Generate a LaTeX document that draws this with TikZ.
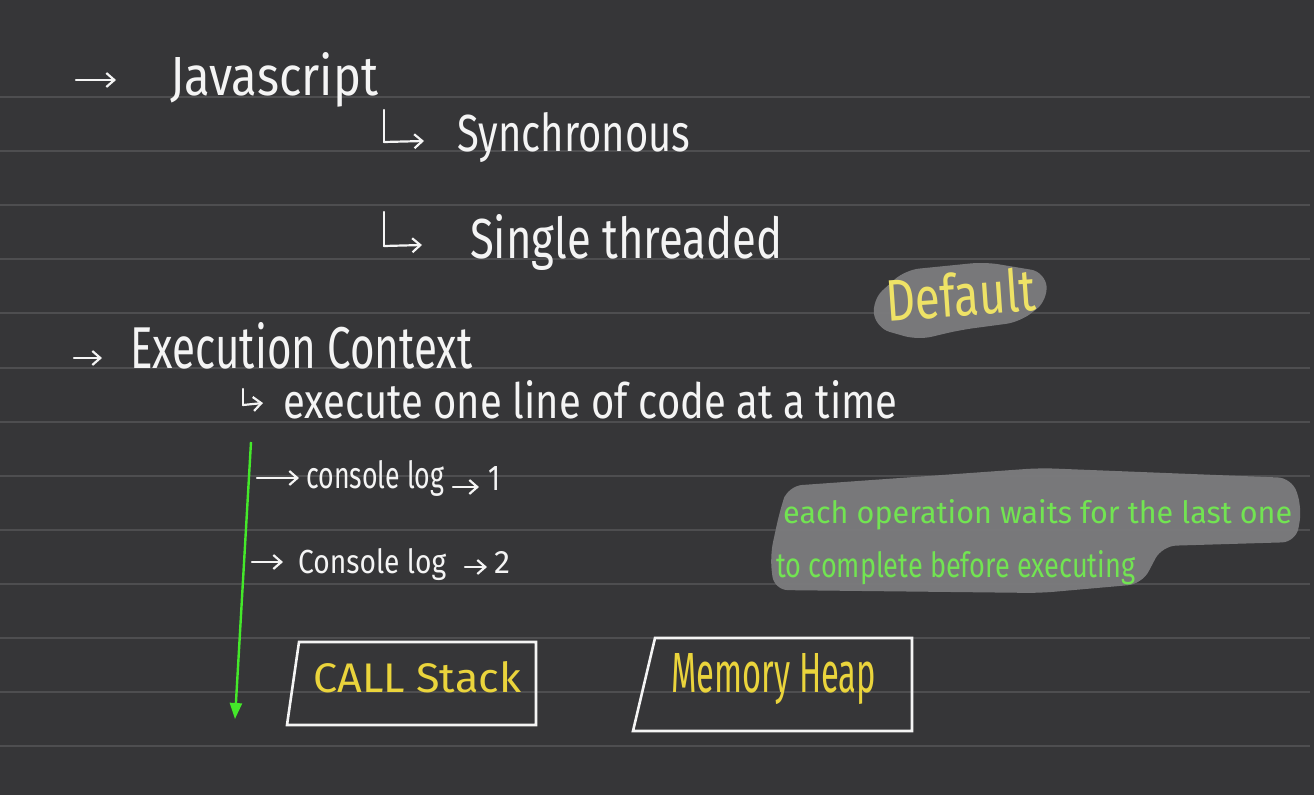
\documentclass[tikz,border=0pt]{standalone}
\usepackage{fontspec}
\usepackage{graphicx}
\usetikzlibrary{arrows.meta}
\newfontfamily\hand{Fira Sans}[FakeStretch=0.8]
\definecolor{bgc}{HTML}{363638}
\definecolor{rulec}{HTML}{4E4E50}
\definecolor{inkw}{HTML}{F4F4F4}
\definecolor{inky}{HTML}{EAD43C}
\definecolor{inky2}{HTML}{EEE266}
\definecolor{inkg}{HTML}{72E452}
\definecolor{arrg}{HTML}{44E82A}
\definecolor{blob}{HTML}{7C7C7E}
\newcommand\hw[3]{\resizebox{#1pt}{#2pt}{\hand #3}}
\tikzset{
  txt/.style={anchor=base west, inner sep=0pt, text=inkw},
  ytxt/.style={txt, text=inky},
  gtxt/.style={txt, text=inkg},
  warr/.style={draw=inkw, line width=2.2pt, line cap=round, -{Straight Barb[length=8pt,width=14pt,line width=2.2pt]}},
  rule/.style={draw=rulec, line width=2pt},
  boxl/.style={draw=inkw, line width=2.6pt, line join=miter},
  blobf/.style={fill=blob, fill opacity=0.95, rounded corners=14pt}
}
\begin{document}
\begin{tikzpicture}[x=1pt,y=-1pt]
\fill[bgc] (0,0) rectangle (1314,795);
\useasboundingbox (0,0) rectangle (1314,795);
% ruled lines
\foreach \k in {0,...,12}{
  \draw[rule] (0,{97+54.1*\k}) -- (1310,{97+54.1*\k});
}
% highlight blobs
\fill[blobf] (872,300) -- (905,270) -- (985,262) -- (1045,272) -- (1048,300)
   -- (1020,322) -- (960,330) -- (918,340) -- (876,328) -- cycle;
\fill[blobf] (788,486) -- (1040,468) -- (1292,478) -- (1302,508) -- (1296,542)
   -- (1162,546) -- (1142,584) -- (1040,593) -- (774,590) -- (770,556) -- (780,510) -- cycle;

% arrows (white)
\draw[warr] (76,80) -- (116,80);
\draw[warr, -] (384,110) -- (384,142);
\draw[warr] (384,142) -- (424,141);
\draw[warr, -] (384,212) -- (384,246);
\draw[warr] (384,246) -- (422,245);
\draw[warr] (74,358) -- (102,358);
\draw[warr, -] (243,389) -- (243,405);
\draw[warr] (243,405) -- (263,403);
\draw[warr] (257,478) -- (299,478);
\draw[warr] (453,487) -- (479,487);
\draw[warr] (252,562) -- (283,562);
\draw[warr] (465,567) -- (487,567);

% texts
\node[txt] (js) at (170,95) {\hw{208}{43}{Javascript}};
\node[txt] (sync) at (457,151) {\hw{233}{39}{Synchronous}};
\node[txt] (single) at (470,258) {\hw{312}{44}{Single threaded}};
\node[txt] (ec) at (130,368) {\hw{342}{46}{Execution Context}};
\node[txt] (exec) at (283,418) {\hw{614}{38}{execute one line of code at a time}};
\node[txt] (log1) at (306,488) {\hw{138}{28}{console log}};
\node[txt] (one) at (488,490) {\hw{12}{24}{1}};
\node[txt] (log2) at (298,573) {\hw{148}{25}{Console log}};
\node[txt] (two) at (494,573) {\hw{16}{22}{2}};
\node[gtxt] (g1) at (783,523) {\hw{509}{24}{each operation waits for the last one}};
\node[gtxt] (g2) at (776,577) {\hw{359}{27}{to complete before executing}};
\node[txt, text=inky2, anchor=base, rotate=4] (def) at (962,316) {\hw{150}{44}{Default}};

% boxes
\draw[boxl] (299,642) -- (536,642) -- (536,725) -- (287,725) -- cycle;
\draw[boxl] (655,638) -- (912,638) -- (912,731) -- (633,731) -- cycle;
\node[ytxt] (cs) at (313,692) {\hw{208}{31}{CALL Stack}};
\node[ytxt] (mh) at (671,692) {\hw{205}{39}{Memory Heap}};

% green flow arrow
\coordinate (gtop) at (251,442);
\coordinate (gbot) at (235,719);
\draw[draw=arrg, line width=2.4pt, -{Triangle[length=16pt,width=12pt]}] (gtop) -- (gbot);
\end{tikzpicture}
\end{document}
